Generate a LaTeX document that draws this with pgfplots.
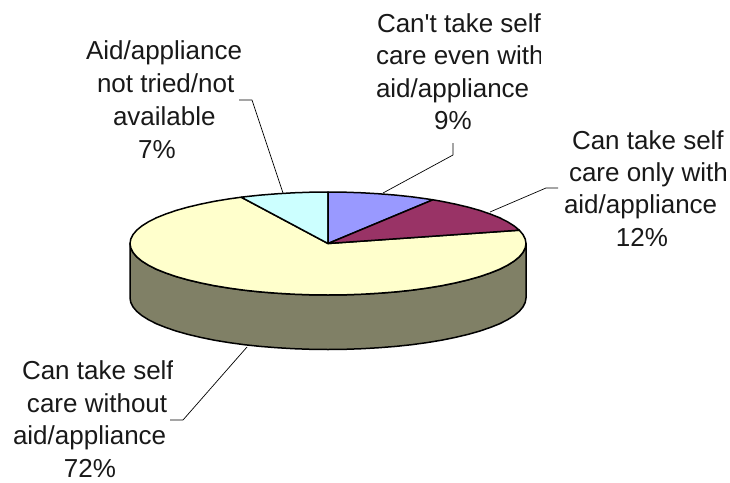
\documentclass[border=0pt]{standalone}
\usepackage{pgfplots}
\pgfplotsset{compat=1.18}
\usepackage{fontspec}
\setmainfont{Liberation Sans}
\definecolor{cblue}{HTML}{9999FF}
\definecolor{cplum}{HTML}{993366}
\definecolor{cyell}{HTML}{FFFFCC}
\definecolor{ccyan}{HTML}{CCFFFF}
\definecolor{cside}{HTML}{808066}
\tikzset{lbl/.style={inner sep=0pt, outer sep=0pt, text=black!90!white, font=\fontsize{26}{32}\selectfont}}
\begin{document}
\begin{tikzpicture}[x=1pt,y=1pt]
\begin{axis}[
  scale only axis, width=730pt, height=482pt,
  xmin=0, xmax=730, ymin=0, ymax=482, y dir=reverse,
  hide axis, clip=false,
  every axis plot/.append style={line join=round},
]
% white page background, holds the picture's full extent
\addplot[fill=white, draw=none] coordinates {(0,0)(730,0)(730,482)(0,482)} -- cycle;
% side wall
\addplot[fill=cside, draw=black, line width=1.5pt] coordinates {
(526,243.5)(525.2,248)(523,252.4)(519.3,256.8)(514.1,261.1)(507.4,265.3)(499.5,269.3)(490.2,273)(479.7,276.6)(468,279.9)(455.3,282.9)(441.6,285.7)(427,288.1)(411.7,290.2)(395.7,291.9)(379.2,293.2)(362.4,294.2)(345.3,294.8)(328,295)(310.7,294.8)(293.6,294.2)(276.8,293.2)(260.3,291.9)(244.3,290.2)(229,288.1)(214.4,285.7)(200.7,282.9)(188,279.9)(176.3,276.6)(165.8,273)(156.5,269.3)(148.6,265.3)(141.9,261.1)(136.7,256.8)(133,252.4)(130.8,248)(130,243.5)
(130,298)(130.8,302.5)(133,306.9)(136.7,311.3)(141.9,315.6)(148.6,319.8)(156.5,323.8)(165.8,327.5)(176.3,331.1)(188,334.4)(200.7,337.4)(214.4,340.2)(229,342.6)(244.3,344.7)(260.3,346.4)(276.8,347.7)(293.6,348.7)(310.7,349.3)(328,349.5)(345.3,349.3)(362.4,348.7)(379.2,347.7)(395.7,346.4)(411.7,344.7)(427,342.6)(441.6,340.2)(455.3,337.4)(468,334.4)(479.7,331.1)(490.2,327.5)(499.5,323.8)(507.4,319.8)(514.1,315.6)(519.3,311.3)(523,306.9)(525.2,302.5)(526,298)
} -- cycle;
% 72% wedge
\addplot[fill=cyell, draw=black, line width=1.5pt] coordinates {
(328,243.5)(519.3,230.2)(523,234.6)(525.2,239)(526,243.5)(525.2,248)(523,252.4)(519.3,256.8)(514.1,261.1)(507.4,265.3)(499.5,269.3)(490.2,273)(479.7,276.6)(468,279.9)(455.3,282.9)(441.6,285.7)(427,288.1)(411.7,290.2)(395.7,291.9)(379.2,293.2)(362.4,294.2)(345.3,294.8)(328,295)(310.7,294.8)(293.6,294.2)(276.8,293.2)(260.3,291.9)(244.3,290.2)(229,288.1)(214.4,285.7)(200.7,282.9)(188,279.9)(176.3,276.6)(165.8,273)(156.5,269.3)(148.6,265.3)(141.9,261.1)(136.7,256.8)(133,252.4)(130.8,248)(130,243.5)(130.8,239)(133,234.6)(136.7,230.2)(141.9,225.9)(148.6,221.7)(156.5,217.7)(165.8,214)(176.3,210.4)(188,207.1)(200.7,204.1)(214.4,201.3)(229,198.9)(241.2,197.2)
} -- cycle;
% 7% wedge
\addplot[fill=ccyan, draw=black, line width=1.5pt] coordinates {
(328,243.5)(241.2,197.2)(244.3,196.8)(260.3,195.1)(276.8,193.8)(293.6,192.8)(310.7,192.2)(328,192)
} -- cycle;
% 9% wedge
\addplot[fill=cblue, draw=black, line width=1.5pt] coordinates {
(328,243.5)(328,192)(345.3,192.2)(362.4,192.8)(379.2,193.8)(395.7,195.1)(411.7,196.8)(427,198.9)(432.9,199.8)
} -- cycle;
% 12% wedge
\addplot[fill=cplum, draw=black, line width=1.5pt] coordinates {
(328,243.5)(432.9,199.8)(441.6,201.3)(455.3,204.1)(468,207.1)(479.7,210.4)(490.2,214)(499.5,217.7)(507.4,221.7)(514.1,225.9)(519.3,230.2)
} -- cycle;
% leader lines
\addplot[draw=black, line width=0.7pt] coordinates {(453,143)(453,155)(383,193)};
\addplot[draw=black, line width=0.7pt] coordinates {(558,188)(546,188)(490,212)};
\addplot[draw=black, line width=0.7pt] coordinates {(170,420)(183,420)(247,347)};
\addplot[draw=black, line width=0.7pt] coordinates {(239,100)(252,100)(283,193)};
% labels
\pgfplotsextra{
\begin{scope}
\clip (axis cs:360,0) rectangle (axis cs:540,110);
\node[lbl, overlay, anchor=base west] at (axis cs:377,32) {Can\textquotesingle t take self};
\node[lbl, overlay, anchor=base west] at (axis cs:376,64) {care even with};
\end{scope}
\begin{scope}
\clip (axis cs:560,120) rectangle (axis cs:725,190);
\node[lbl, overlay, anchor=base west] at (axis cs:572,149) {Can take self};
\node[lbl, overlay, anchor=base west] at (axis cs:569,181) {care only with};
\end{scope}
\begin{scope}
\clip (axis cs:0,350) rectangle (axis cs:172,390);
\node[lbl, overlay, anchor=base west] at (axis cs:22,379) {Can take self};
\end{scope}
}
\node[lbl, anchor=base west] at (axis cs:376,97) {aid/appliance};
\node[lbl, anchor=base] at (axis cs:453,129) {9\%};
\node[lbl, anchor=base west] at (axis cs:564,213) {aid/appliance};
\node[lbl, anchor=base] at (axis cs:642,246) {12\%};
\node[lbl, anchor=base west] at (axis cs:27,412) {care without};
\node[lbl, anchor=base west] at (axis cs:13,444) {aid/appliance};
\node[lbl, anchor=base] at (axis cs:90,477) {72\%};
\node[lbl, anchor=base west] at (axis cs:86,59) {Aid/appliance};
\node[lbl, anchor=base west] at (axis cs:97,92) {not tried/not};
\node[lbl, anchor=base west] at (axis cs:113,125) {available};
\node[lbl, anchor=base] at (axis cs:157,158) {7\%};
\end{axis}
\end{tikzpicture}
\end{document}
